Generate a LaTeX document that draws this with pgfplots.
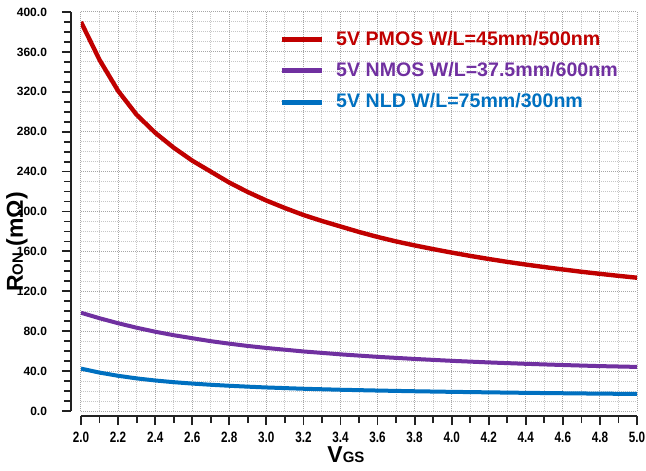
\documentclass[border=0pt]{standalone}
\usepackage{graphicx}
\usepackage{pgfplots}
\pgfplotsset{compat=1.18}
\usepackage{fontspec}
\setmainfont{Liberation Sans}
\newfontfamily\narrowfont[FakeStretch=0.78]{Liberation Sans}
\definecolor{cred}{HTML}{C00000}
\definecolor{cpurple}{HTML}{7030A0}
\definecolor{cblue}{HTML}{0070C0}
\definecolor{axisgray}{HTML}{222222}

\begin{document}
\begin{tikzpicture}
\begin{axis}[
 name=ax,
 scale only axis,
 width=278pt, height=199.5pt,
 xmin=2, xmax=5, ymin=0, ymax=400,
 axis lines=left,
 axis line style={-, line width=1pt, axisgray},
 axis x line shift=2.5pt,
 axis y line shift=5pt,
 xtick={2,2.2,...,5.01},
 ytick={0,40,...,400},
 minor x tick num=1,
 minor y tick num=3,
 tick align=outside,
 major tick length=4.5pt,
 minor tick length=3.5pt,
 tick style={line width=0.9pt, axisgray},
 grid=both,
 major grid style={draw=gray!70, line width=0.5pt, dash pattern=on 0.5pt off 0.5pt},
 minor grid style={draw=gray!45, line width=0.5pt, dash pattern=on 0.5pt off 0.5pt},
 /pgf/number format/assume math mode=true,
 xticklabel style={font=\narrowfont\bfseries\fontsize{7.5}{8}\selectfont, /pgf/number format/.cd, fixed, fixed zerofill, precision=1},
 yticklabel style={xshift=-4pt, font=\bfseries\fontsize{6}{7}\selectfont, /pgf/number format/.cd, fixed, fixed zerofill, precision=1},
 xlabel={V{\fontsize{7.5}{8}\selectfont GS}},
 ylabel={\rotatebox{90}{R{\fontsize{7.5}{8}\selectfont ON} (mΩ)}},
 every axis x label/.style={at={(rel axis cs:0.4766,0)}, anchor=base, yshift=-25.5pt,
   font=\bfseries\fontsize{11.5}{13}\selectfont},
 every axis y label/.style={at={(rel axis cs:0,0.4236)}, anchor=center, xshift=-32pt,
   font=\bfseries\fontsize{11.5}{13}\selectfont},
 legend style={draw=none, fill=none, at={(0.345,0.973)}, anchor=north west,
   font=\bfseries\fontsize{9.8}{11}\selectfont, row sep=3pt, column sep=4pt},
 legend cell align={left},
 legend image code/.code={\draw[#1, line width=2.5pt] (0pt,0pt) -- (20pt,0pt);},
]
\addplot[cred, line width=2.2pt] coordinates {
 (2.0,390) (2.1,352) (2.2,321) (2.3,297) (2.4,279) (2.5,264) (2.6,251) (2.7,240)
 (2.8,229) (2.9,219.5) (3.0,211) (3.1,203.5) (3.2,196.5) (3.3,190.5) (3.4,185)
 (3.5,179.5) (3.6,174.5) (3.7,170) (3.8,166) (3.9,162.3) (4.0,158.8) (4.1,155.5)
 (4.2,152.4) (4.3,149.5) (4.4,146.8) (4.5,144.3) (4.6,141.9) (4.7,139.6) (4.8,137.5)
 (4.9,135.5) (5.0,133.6)};
\addlegendentry{\textcolor{cred}{5V PMOS W/L=45mm/500nm}}
\addplot[cpurple, line width=2pt] coordinates {
 (2.0,98.5) (2.1,93) (2.2,88) (2.3,83.5) (2.4,79.5) (2.5,76) (2.6,73) (2.7,70)
 (2.8,67.5) (2.9,65.2) (3.0,63.2) (3.2,59.7) (3.4,56.8) (3.6,54.3) (3.8,52.2)
 (4.0,50.3) (4.2,48.7) (4.4,47.3) (4.6,46.1) (4.8,45.0) (5.0,44.2)};
\addlegendentry{\textcolor{cpurple}{5V NMOS W/L=37.5mm/600nm}}
\addplot[cblue, line width=2pt] coordinates {
 (2.0,42.5) (2.1,38.5) (2.2,35.3) (2.3,32.7) (2.4,30.6) (2.5,28.9) (2.6,27.5)
 (2.7,26.3) (2.8,25.3) (2.9,24.4) (3.0,23.6) (3.2,22.3) (3.4,21.3) (3.6,20.5)
 (3.8,19.8) (4.0,19.2) (4.2,18.7) (4.4,18.2) (4.6,17.8) (4.8,17.4) (5.0,17.1)};
\addlegendentry{\textcolor{cblue}{5V NLD W/L=75mm/300nm}}
\end{axis}
\pgfresetboundingbox
\path[use as bounding box] ([shift={(-40.5pt,-29.5pt)}]ax.south west) rectangle ([shift={(4.5pt,6pt)}]ax.north east);
\end{tikzpicture}
\end{document}
